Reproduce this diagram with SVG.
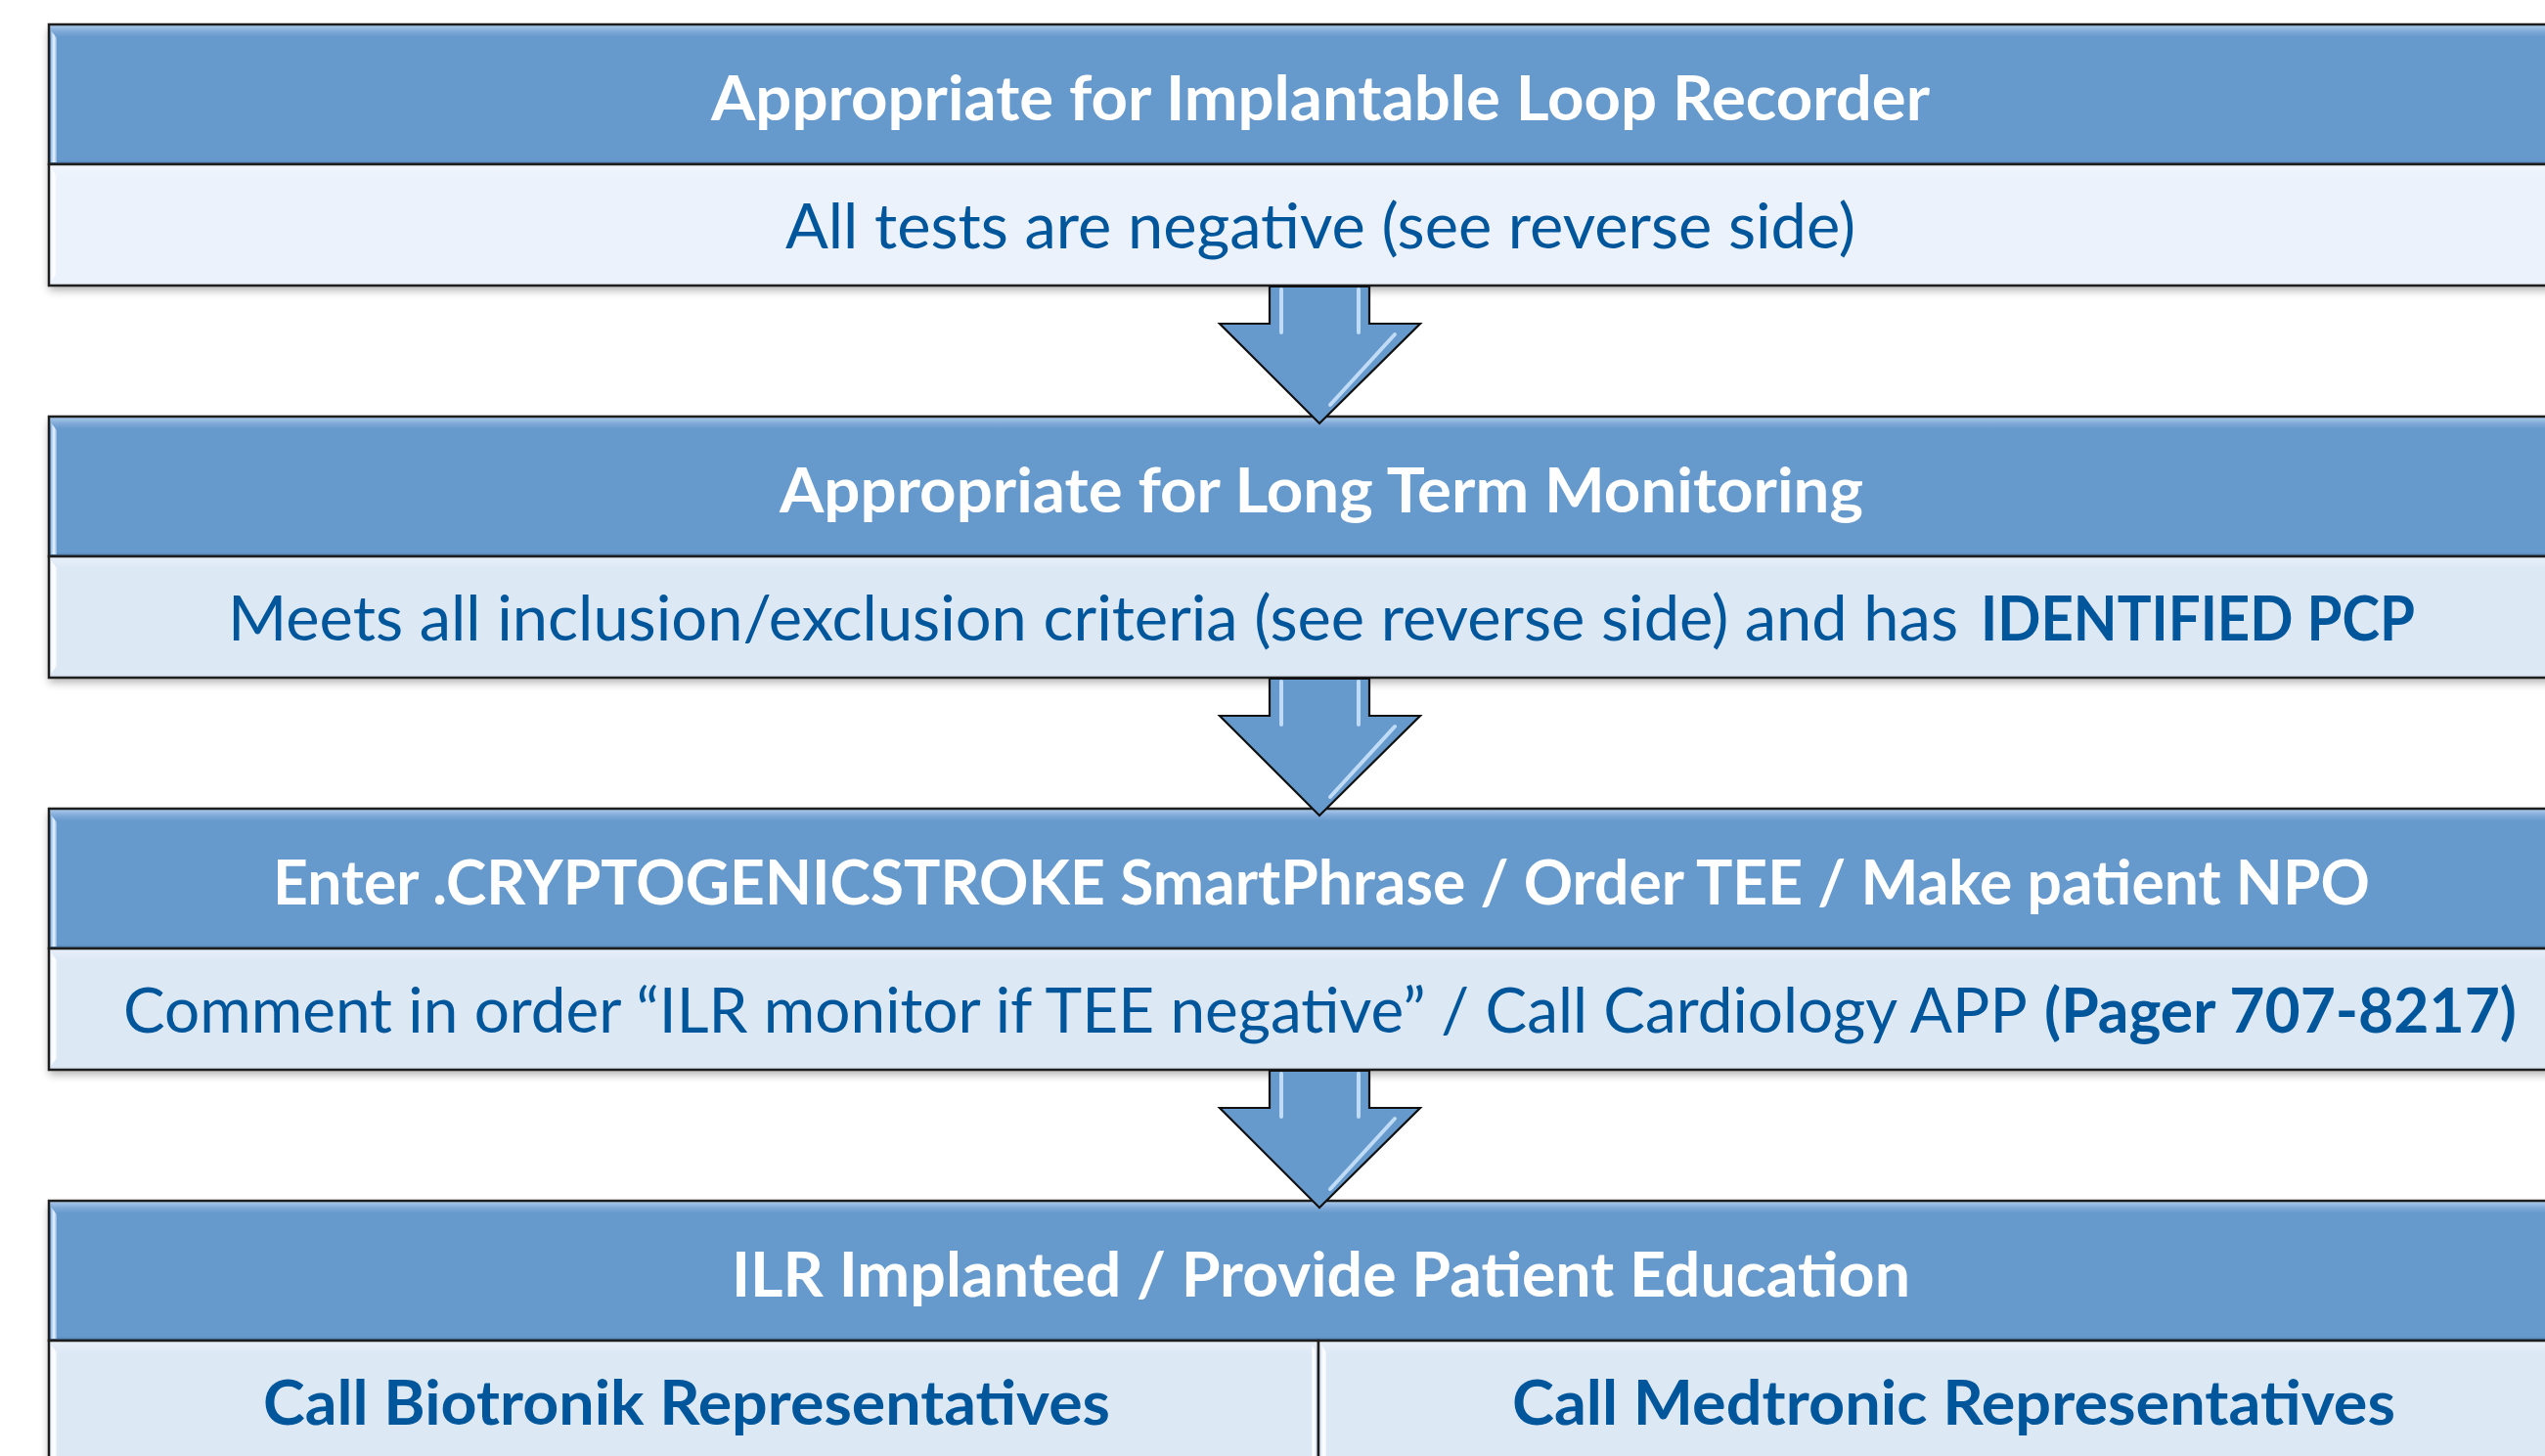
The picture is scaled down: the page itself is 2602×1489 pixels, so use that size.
<svg xmlns="http://www.w3.org/2000/svg" width="2602" height="1489" viewBox="0 0 2602 1489">
<defs>
<style>
.shbox{fill:#ffffff;stroke:none}
.hdr{fill:url(#hdrGrad);stroke:#1e1e1e;stroke-width:2.5}
.body1{fill:url(#body1Grad);stroke:#1e1e1e;stroke-width:2.5}
.body{fill:url(#bodyGrad);stroke:#1e1e1e;stroke-width:2.5}
.hhl{fill:url(#hhlGrad)}
.bhl{fill:url(#bhlGrad)}
.ht{font-family:Lato,"Open Sans","Liberation Sans",sans-serif;font-weight:bold;font-size:64px;fill:#ffffff}
.bt{font-family:Lato,"Open Sans","Liberation Sans",sans-serif;font-weight:normal;font-size:63px;fill:#00569b}
.bb{font-weight:bold}
.arrow{fill:#6699cc;stroke:#111111;stroke-width:2.2;stroke-linejoin:miter}
.ahl{fill:none;stroke:#cfe6fb;stroke-width:4;stroke-linecap:round;opacity:0.85}
</style>
<linearGradient id="hdrGrad" x1="0" y1="0" x2="0" y2="1">
<stop offset="0" stop-color="#b0cdec"/>
<stop offset="0.05" stop-color="#7fa9d8"/>
<stop offset="0.09" stop-color="#6699cc"/>
<stop offset="0.97" stop-color="#6699cc"/>
<stop offset="1" stop-color="#4f7fb0"/>
</linearGradient>
<linearGradient id="body1Grad" x1="0" y1="0" x2="0" y2="1">
<stop offset="0" stop-color="#f4f8fe"/>
<stop offset="0.1" stop-color="#ebf2fc"/>
<stop offset="0.97" stop-color="#ebf2fc"/>
<stop offset="1" stop-color="#e2eaf4"/>
</linearGradient>
<linearGradient id="bodyGrad" x1="0" y1="0" x2="0" y2="1">
<stop offset="0" stop-color="#e8f0f9"/>
<stop offset="0.1" stop-color="#dde8f5"/>
<stop offset="0.97" stop-color="#dde8f5"/>
<stop offset="1" stop-color="#d3dde9"/>
</linearGradient>
<linearGradient id="hhlGrad" x1="0" y1="0" x2="1" y2="0">
<stop offset="0" stop-color="#8fb6e0"/>
<stop offset="0.5" stop-color="#eaf5ff"/>
<stop offset="1" stop-color="#8fb6e0"/>
</linearGradient>
<linearGradient id="bhlGrad" x1="0" y1="0" x2="1" y2="0">
<stop offset="0" stop-color="#eef4fb"/>
<stop offset="0.5" stop-color="#ffffff"/>
<stop offset="1" stop-color="#eef4fb"/>
</linearGradient>
<filter id="sh" x="-5%" y="-10%" width="110%" height="130%">
<feDropShadow dx="0" dy="5" stdDeviation="4" flood-color="#000000" flood-opacity="0.3"/>
</filter>
</defs>
<rect width="2602" height="1489" fill="#ffffff"/>

<g id="node1">
<rect class="shbox" x="50" y="25" width="2600" height="267" filter="url(#sh)"/>
<rect class="hdr" x="50" y="25" width="2600" height="143"/>
<rect class="body1" x="50" y="168" width="2600" height="124"/>
<path class="hhl" d="M52,31 L58,39 L58,166 L52,166 Z"/>
<path class="bhl" d="M52,172 L58,180 L58,280 L52,288 Z"/>
<text class="ht" x="727" y="123" textLength="1246" lengthAdjust="spacingAndGlyphs">Appropriate for Implantable Loop Recorder</text>
<text class="bt" x="803" y="254" textLength="1094" lengthAdjust="spacingAndGlyphs">All tests are negative (see reverse side)</text>
</g>

<g id="node2">
<rect class="shbox" x="50" y="426" width="2600" height="267" filter="url(#sh)"/>
<rect class="hdr" x="50" y="426" width="2600" height="143"/>
<rect class="body" x="50" y="569" width="2600" height="124"/>
<path class="hhl" d="M52,432 L58,440 L58,567 L52,567 Z"/>
<path class="bhl" d="M52,573 L58,581 L58,681 L52,689 Z"/>
<text class="ht" x="797" y="524" textLength="1108" lengthAdjust="spacingAndGlyphs">Appropriate for Long Term Monitoring</text>
<text class="bt" y="655"><tspan x="233" textLength="1769" lengthAdjust="spacingAndGlyphs">Meets all inclusion/exclusion criteria (see reverse side) and has</tspan> <tspan class="bb" x="2025" textLength="444" lengthAdjust="spacingAndGlyphs">IDENTIFIED PCP</tspan></text>
</g>

<g id="node3">
<rect class="shbox" x="50" y="827" width="2600" height="267" filter="url(#sh)"/>
<rect class="hdr" x="50" y="827" width="2600" height="143"/>
<rect class="body" x="50" y="970" width="2600" height="124"/>
<path class="hhl" d="M52,833 L58,841 L58,968 L52,968 Z"/>
<path class="bhl" d="M52,974 L58,982 L58,1082 L52,1090 Z"/>
<text class="ht" x="279" y="925" textLength="2144" lengthAdjust="spacingAndGlyphs">Enter .CRYPTOGENICSTROKE SmartPhrase / Order TEE / Make patient NPO</text>
<text class="bt" y="1056"><tspan x="126" textLength="1945" lengthAdjust="spacingAndGlyphs">Comment in order “ILR monitor if TEE negative” / Call Cardiology APP</tspan> <tspan class="bb" x="2090" textLength="483" lengthAdjust="spacingAndGlyphs">(Pager 707-8217)</tspan></text>
</g>

<g id="node4">
<rect class="shbox" x="50" y="1228" width="2600" height="280" filter="url(#sh)"/>
<rect class="hdr" x="50" y="1228" width="2600" height="143"/>
<rect class="body" x="50" y="1371" width="1298" height="140"/>
<rect class="body" x="1348" y="1371" width="1302" height="140"/>
<path class="hhl" d="M52,1234 L58,1242 L58,1369 L52,1369 Z"/>
<path class="bhl" d="M52,1375 L58,1383 L58,1489 L52,1489 Z"/>
<path class="bhl" d="M1341,1375 L1345,1381 L1345,1489 L1341,1489 Z"/>
<path class="bhl" d="M1351,1375 L1356,1383 L1356,1489 L1351,1489 Z"/>
<text class="ht" x="748" y="1326" textLength="1205" lengthAdjust="spacingAndGlyphs">ILR Implanted / Provide Patient Education</text>
<text class="bt bb" x="269" y="1457" textLength="866" lengthAdjust="spacingAndGlyphs">Call Biotronik Representatives</text>
<text class="bt bb" x="1546" y="1457" textLength="903" lengthAdjust="spacingAndGlyphs">Call Medtronic Representatives</text>
</g>

<g id="connectors">
<g id="arrow1">
<path class="arrow" d="M1298,293 L1400,293 L1400,331 L1452,331 L1349,433 L1247,331 L1298,331 Z"/>
<path class="ahl" d="M1310,296 L1310,340 M1389,296 L1389,340 M1426,342 L1360,414"/>
</g>
<g id="arrow2">
<path class="arrow" d="M1298,694 L1400,694 L1400,732 L1452,732 L1349,834 L1247,732 L1298,732 Z"/>
<path class="ahl" d="M1310,697 L1310,741 M1389,697 L1389,741 M1426,743 L1360,815"/>
</g>
<g id="arrow3">
<path class="arrow" d="M1298,1095 L1400,1095 L1400,1133 L1452,1133 L1349,1235 L1247,1133 L1298,1133 Z"/>
<path class="ahl" d="M1310,1098 L1310,1142 M1389,1098 L1389,1142 M1426,1144 L1360,1216"/>
</g>
</g>
</svg>
